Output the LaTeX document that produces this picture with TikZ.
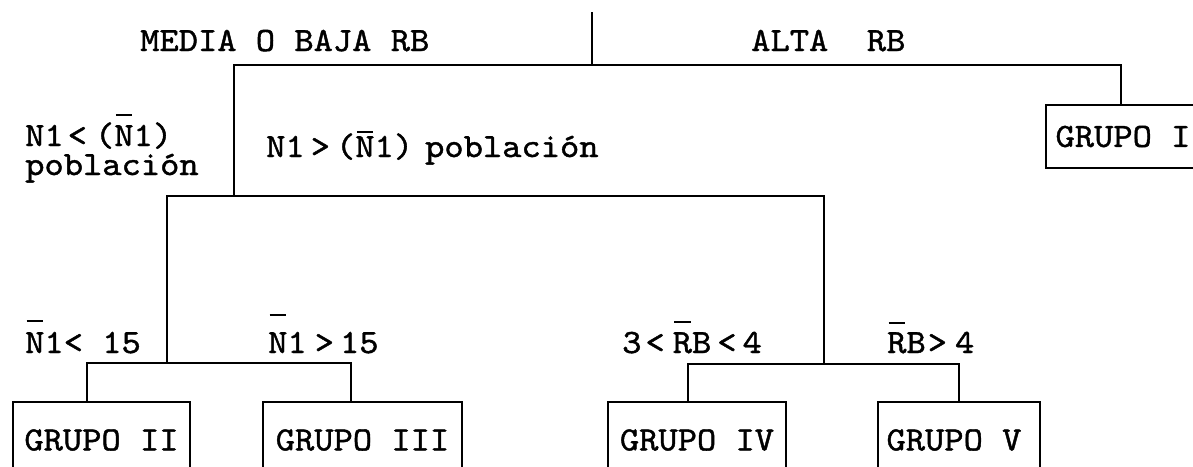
\documentclass[tikz,border=0pt]{standalone}
\usepackage{fontspec}
\newfontfamily\tw{lmmono10-regular.otf}[FakeStretch=1.08,FakeBold=1.2]
% bar over one letter, raised by #1 pt above the baseline
\newsavebox\ovbox
\newcommand\ovbar[2]{\sbox\ovbox{#2}\rlap{\hspace*{1.5pt}\raisebox{#1pt}{\rule{\dimexpr\wd\ovbox-3pt\relax}{2pt}}}\usebox\ovbox}
\newcommand\hs[1]{\hspace*{#1pt}}
\begin{document}
\begin{tikzpicture}[x=1pt,y=-1pt,
  lbl/.style={font=\tw\fontsize{34}{29}\selectfont, inner sep=0pt, anchor=base west},
  grp/.style={draw, line width=2pt, font=\tw\fontsize{34}{25}\selectfont, inner sep=0pt, minimum height=76pt},
  hline/.style={line width=2.6pt, line cap=rect},
  vline/.style={line width=1.8pt, line cap=rect}]
\useasboundingbox (0,0) rectangle (1193,466);

% result boxes
\node[grp, minimum width=154pt, minimum height=63pt] (g1) at (1123,136.5) {GRUPO I};
\node[grp, minimum width=177pt] (g2) at (101.5,440) {GRUPO II};
\node[grp, minimum width=199pt] (g3) at (362.5,440) {GRUPO III};
\node[grp, minimum width=178pt] (g4) at (697,440) {GRUPO IV};
\node[grp, minimum width=162pt] (g5) at (959,440) {GRUPO V\hs{10}};

% branching points
\coordinate (top) at (592,13);
\coordinate (j1) at (592,65);
\coordinate (a1) at (234,65);
\coordinate (b1) at (1121,65);
\coordinate (j2) at (234,196);
\coordinate (a2) at (167,196);
\coordinate (b2) at (824,196);
\coordinate (j3) at (167,363);
\coordinate (a3) at (87,363);
\coordinate (b3) at (351,363);
\coordinate (j4) at (824,364);
\coordinate (a4) at (688,364);
\coordinate (b4) at (959,364);

% tree
\draw[vline] (top) -- (j1);
\draw[hline] (a1) -- (b1);
\draw[vline] (a1) -- (j2);
\draw[vline] (b1) -- (b1 |- g1.north);
\draw[hline] (a2) -- (b2);
\draw[vline] (a2) -- (j3);
\draw[vline] (b2) -- (j4);
\draw[hline] (a3) -- (b3);
\draw[hline] (a4) -- (b4);
\draw[vline] (a3) -- (a3 |- g2.north);
\draw[vline] (b3) -- (b3 |- g3.north);
\draw[vline] (a4) -- (a4 |- g4.north);
\draw[vline] (b4) -- (b4 |- g5.north);

% branch conditions (a two-line node sits on the baseline of its last line)
\node[lbl] (t1) at (140,51) {MEDIA O BAJA RB};
\node[lbl] (t2) at (751,51) {ALTA~~RB};
\node[lbl, align=left] (c1) at (25,175) {N1\hs{4}<\hs{8}(\ovbar{30}{N}1)\\población};
\node[lbl] (c2) at (266,157) {N1\hs{6}>\hs{6}(\ovbar{24}{N}1)\hs{12}población};
\node[lbl] (c3) at (25,353) {\ovbar{31}{N}1<~15};
\node[lbl] (c4) at (268,353) {\ovbar{37}{N}1\hs{8}>\hs{6}15};
\node[lbl] (c5) at (622,353) {3\hs{4}<\hs{8}\ovbar{30}{R}B\hs{6}<\hs{6}4};
\node[lbl] (c6) at (887,353) {\ovbar{29}{R}B\hs{2}>\hs{8}4};
\end{tikzpicture}
\end{document}
